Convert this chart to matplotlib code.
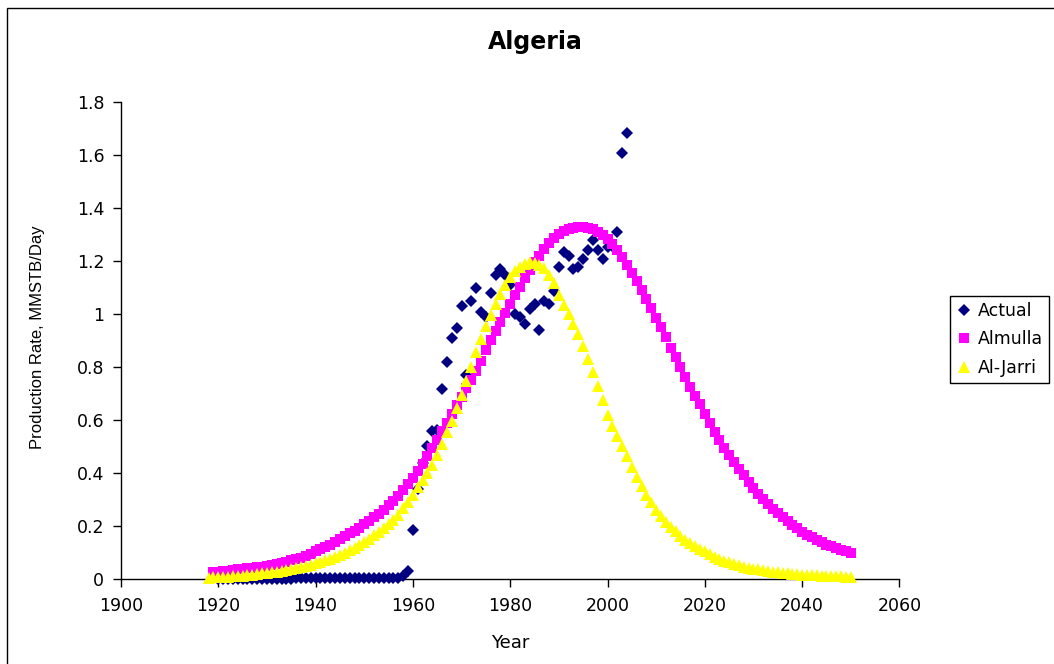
import numpy as np
import matplotlib
matplotlib.use("Agg")
import matplotlib.pyplot as plt
from matplotlib.patches import Rectangle
from matplotlib.ticker import FuncFormatter

# Algeria oil production: actual history and two fitted models (MMSTB/Day)
actual_years = list(range(1920, 2005))
actual_rate = (
    [0.0] * 16 +                      # 1920-1935
    [0.005] * 21 +                    # 1936-1956
    [0.005, 0.012, 0.03,              # 1957-1959
     0.185, 0.34, 0.44, 0.505, 0.56, 0.565, 0.72, 0.82, 0.91, 0.95,   # 1960-1969
     1.03, 0.77, 1.05, 1.10, 1.01, 0.99, 1.08, 1.15, 1.17, 1.15,      # 1970-1979
     1.11, 1.00, 0.99, 0.965, 1.02, 1.04, 0.94, 1.05, 1.04, 1.09,     # 1980-1989
     1.18, 1.235, 1.22, 1.17, 1.18, 1.21, 1.245, 1.28, 1.245, 1.21,   # 1990-1999
     1.255, 1.26, 1.31, 1.61, 1.685]                                  # 2000-2004
)

almulla_years = list(range(1919, 2051))
almulla_rate = [
    0.027,                                                              # 1919
    0.029, 0.031, 0.033, 0.036, 0.038, 0.040, 0.042, 0.044, 0.046, 0.048,  # 1920s
    0.050, 0.054, 0.058, 0.062, 0.067, 0.072, 0.077, 0.082, 0.089, 0.097,  # 1930s
    0.105, 0.113, 0.122, 0.131, 0.140, 0.151, 0.162, 0.173, 0.184, 0.195,  # 1940s
    0.207, 0.220, 0.234, 0.248, 0.263, 0.279, 0.295, 0.316, 0.338, 0.360,  # 1950s
    0.383, 0.410, 0.437, 0.465, 0.494, 0.526, 0.558, 0.591, 0.625, 0.657,  # 1960s
    0.689, 0.721, 0.753, 0.787, 0.826, 0.865, 0.902, 0.937, 0.972, 1.006,  # 1970s
    1.040, 1.073, 1.104, 1.138, 1.168, 1.196, 1.222, 1.246, 1.268, 1.287,  # 1980s
    1.302, 1.314, 1.323, 1.328, 1.330, 1.330, 1.327, 1.321, 1.312, 1.300,  # 1990s
    1.285, 1.266, 1.243, 1.216, 1.187, 1.157, 1.125, 1.092, 1.058, 1.023,  # 2000s
    0.987, 0.951, 0.914, 0.874, 0.838, 0.801, 0.764, 0.727, 0.692, 0.660,  # 2010s
    0.624, 0.589, 0.556, 0.525, 0.496, 0.469, 0.444, 0.418, 0.393, 0.366,  # 2020s
    0.344, 0.322, 0.302, 0.283, 0.266, 0.250, 0.235, 0.220, 0.206, 0.193,  # 2030s
    0.180, 0.168, 0.158, 0.148, 0.139, 0.131, 0.124, 0.117, 0.111, 0.105,  # 2040s
    0.099,                                                              # 2050
]

aljarri_years = list(range(1918, 2051))
aljarri_rate = [
    0.006, 0.007,                                                       # 1918-1919
    0.008, 0.009, 0.010, 0.011, 0.012, 0.014, 0.016, 0.018, 0.020, 0.022,  # 1920s
    0.024, 0.026, 0.028, 0.031, 0.034, 0.037, 0.041, 0.045, 0.050, 0.055,  # 1930s
    0.060, 0.066, 0.072, 0.078, 0.085, 0.093, 0.101, 0.110, 0.120, 0.131,  # 1940s
    0.142, 0.154, 0.166, 0.179, 0.193, 0.207, 0.222, 0.244, 0.268, 0.293,  # 1950s
    0.320, 0.347, 0.374, 0.402, 0.430, 0.470, 0.512, 0.555, 0.598, 0.645,  # 1960s
    0.697, 0.750, 0.803, 0.857, 0.908, 0.955, 0.998, 1.040, 1.078, 1.110,  # 1970s
    1.140, 1.163, 1.180, 1.191, 1.196, 1.195, 1.188, 1.175, 1.150, 1.118,  # 1980s
    1.075, 1.035, 1.000, 0.963, 0.925, 0.880, 0.832, 0.782, 0.730, 0.677,  # 1990s
    0.622, 0.580, 0.542, 0.503, 0.464, 0.425, 0.388, 0.352, 0.318, 0.290,  # 2000s
    0.263, 0.238, 0.218, 0.199, 0.181, 0.164, 0.150, 0.138, 0.126, 0.115,  # 2010s
    0.105, 0.095, 0.085, 0.077, 0.070, 0.064, 0.058, 0.053, 0.048, 0.044,  # 2020s
    0.040, 0.037, 0.034, 0.031, 0.029, 0.027, 0.025, 0.023, 0.021, 0.020,  # 2030s
    0.018, 0.017, 0.016, 0.015, 0.014, 0.013, 0.012, 0.011, 0.011, 0.010,  # 2040s
    0.010,                                                              # 2050
]

x_ticks = [1900, 1920, 1940, 1960, 1980, 2000, 2020, 2040, 2060]
y_ticks = [0, 0.2, 0.4, 0.6, 0.8, 1.0, 1.2, 1.4, 1.6, 1.8]

W, H = 1054, 664
fig = plt.figure(figsize=(W / 100, H / 100), dpi=100)
fig.patch.set_facecolor("white")

# chart border (left and top edges show)
fig.add_artist(Rectangle((7 / W, -0.1), 1.2, 1.1 - 8 / H, transform=fig.transFigure,
                         fill=False, edgecolor="black", linewidth=1.0))

ax = fig.add_axes([121 / W, 1 - 579.3 / H, 778.4 / W, 476.8 / H])

ax.plot(actual_years, actual_rate, linestyle="none", marker="D", markersize=6.2,
        color="#000080", markeredgewidth=0, label="Actual", clip_on=False, zorder=3)
ax.plot(almulla_years, almulla_rate, linestyle="none", marker="s", markersize=7.5,
        color="#FF00FF", markeredgewidth=0, label="Almulla", clip_on=False, zorder=4)
ax.plot(aljarri_years, aljarri_rate, linestyle="none", marker="^", markersize=8.5,
        color="#FFFF00", markeredgewidth=0, label="Al-Jarri", clip_on=False, zorder=5)

ax.set_xlim(1900, 2060)
ax.set_ylim(0, 1.8)
ax.set_xticks(x_ticks)
ax.set_yticks(y_ticks)
ax.yaxis.set_major_formatter(FuncFormatter(lambda v, p: f"{v:g}"))

for side in ("top", "right"):
    ax.spines[side].set_visible(False)
for side in ("left", "bottom"):
    ax.spines[side].set_linewidth(1.0)
    ax.spines[side].set_color("black")

ax.tick_params(axis="both", direction="out", length=6, width=1, color="black",
               labelsize=12.5, labelcolor="black")
ax.tick_params(axis="x", pad=7)
ax.tick_params(axis="y", pad=6)

ax.set_xlabel("Year", fontsize=13)
ax.xaxis.set_label_coords(0.5, -0.115)
ax.set_ylabel("Production Rate, MMSTB/Day", fontsize=12, family="Liberation Sans")
ax.yaxis.set_label_coords(-0.098, 0.508)

fig.text(535 / W, 1 - 42 / H, "Algeria", fontsize=17, fontweight="bold",
         ha="center", va="center")

leg = ax.legend(loc="upper left", bbox_to_anchor=(950 / W, 1 - 296 / H),
                bbox_transform=fig.transFigure, borderaxespad=0, fontsize=12.5,
                frameon=True, fancybox=False, framealpha=1, edgecolor="black",
                numpoints=1, handlelength=0.9, handletextpad=0.35,
                labelspacing=0.6, borderpad=0.35)
leg.get_frame().set_linewidth(1.0)

fig.savefig("out.png", dpi=100)
